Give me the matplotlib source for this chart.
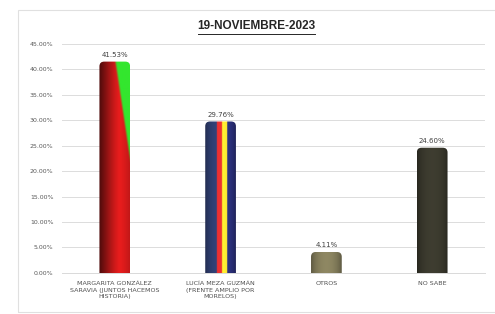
import numpy as np
import matplotlib
matplotlib.use("Agg")
import matplotlib.pyplot as plt
from matplotlib.patches import FancyBboxPatch, Rectangle
from matplotlib.colors import to_rgb

# Data
categories = [
    "MARGARITA GONZÁLEZ\nSARAVIA (JUNTOS HACEMOS\nHISTORIA)",
    "LUCÍA MEZA GUZMÁN\n(FRENTE AMPLIO POR\nMORELOS)",
    "OTROS",
    "NO SABE",
]
values = [41.53, 29.76, 4.11, 24.60]
title = "19-NOVIEMBRE-2023"
yticks = [0, 5, 10, 15, 20, 25, 30, 35, 40, 45]


def shade(n):
    # cylinder-like shading across the bar width
    t = np.linspace(0, 1, n)
    return 0.7 + 0.45 * np.sin(np.pi * t) ** 0.6


def bar_image(i, nx=60, ny=160):
    img = np.zeros((ny, nx, 3))
    t = np.linspace(0, 1, nx)
    s = shade(nx)[None, :, None]
    if i == 0:
        left = np.array(to_rgb("#5c0d0d"))
        right = np.array(to_rgb("#e41c1c"))
        row = left[None, :] + (right - left)[None, :] * np.clip(t * 1.5, 0, 1)[:, None]
        img[:] = row[None, :, :]
        img = img * (0.85 + 0.2 * np.sin(np.pi * t))[None, :, None]
        # green wedge top-right, fading into red along its edge
        yy = np.linspace(1, 0, ny)[:, None]  # 1 at top
        xx = t[None, :]
        depth = (1 - yy) / 0.48
        boundary = 0.5 + 0.5 * depth
        mix = np.clip((xx - boundary) / 0.07, 0, 1) * (yy > 0.52)
        green = np.array(to_rgb("#33e62e"))
        img = img * (1 - mix[..., None]) + green[None, None, :] * mix[..., None]
    elif i == 1:
        cols = np.empty((nx, 3))
        for k, tt in enumerate(t):
            if tt < 0.38:
                c = "#2d3b6b"
            elif tt < 0.55:
                c = "#d02a2a"
            elif tt < 0.72:
                c = "#f6d52c"
            else:
                c = "#2a2f78"
            cols[k] = to_rgb(c)
        img[:] = cols[None, :, :]
        img = img * s
    elif i == 2:
        img[:] = np.array(to_rgb("#7c7656"))[None, None, :]
        img = img * s
    else:
        img[:] = np.array(to_rgb("#36352a"))[None, None, :]
        img = img * s
    return np.clip(img, 0, 1)


fig = plt.figure(figsize=(4.95, 3.14), dpi=100)
fig.patch.set_facecolor("white")
fig.patches.append(Rectangle((18 / 495, 2 / 314), 490 / 495, 302 / 314,
                             transform=fig.transFigure, fill=False,
                             edgecolor="#e0e0e0", linewidth=0.8))

ax = fig.add_axes([0.125, 0.131, 0.855, 0.729])
x = np.arange(len(categories))
bars = ax.bar(x, values, width=0.29, color="none", edgecolor="none")

ax.set_xlim(-0.5, len(categories) - 0.5)
ax.set_ylim(0, 45)

# aspect between data units in x and y (per pixel)
bbox = ax.get_position()
px_w = bbox.width * 495
px_h = bbox.height * 314
aspect = (45 / px_h) / (len(categories) / px_w)

for i, b in enumerate(bars):
    x0, w, h = b.get_x(), b.get_width(), b.get_height()
    clip = FancyBboxPatch((x0, -3), w, h + 3,
                          boxstyle="round,pad=0,rounding_size=0.045",
                          mutation_aspect=aspect, transform=ax.transData,
                          facecolor="none", edgecolor="none")
    ax.add_patch(clip)
    im = ax.imshow(bar_image(i), extent=[x0, x0 + w, 0, h], aspect="auto",
                   interpolation="bilinear", zorder=3)
    im.set_clip_path(clip)
    ax.text(x[i], h + 0.7, f"{values[i]:.2f}%", ha="center", va="bottom",
            fontsize=5, color="#404040", zorder=4)

ax.set_aspect("auto")
ax.set_xlim(-0.5, len(categories) - 0.5)
ax.set_ylim(0, 45)

ax.set_yticks(yticks)
ax.set_yticklabels([f"{v:.2f}%" for v in yticks], fontsize=4.5, color="#595959")
ax.set_xticks(x)
ax.set_xticklabels(categories, fontsize=4.6, color="#505050", linespacing=1.35)
ax.tick_params(length=0, pad=6)
ax.tick_params(axis="y", pad=6)

ax.grid(axis="y", color="#dcdcdc", linewidth=0.7)
ax.set_axisbelow(True)
for sp in ["top", "right", "left"]:
    ax.spines[sp].set_visible(False)
ax.spines["bottom"].set_color("#d9d9d9")
ax.spines["bottom"].set_linewidth(0.7)

fig.text(0.518, 0.918, title, ha="center", va="center", fontsize=8.5,
         fontweight="bold", color="#262626", fontfamily="Liberation Sans")
# underline for title
fig.lines.append(plt.Line2D([0.399, 0.637], [0.893, 0.893],
                            transform=fig.transFigure, color="#262626",
                            linewidth=0.7))

fig.savefig("out.png", dpi=100, facecolor="white")
